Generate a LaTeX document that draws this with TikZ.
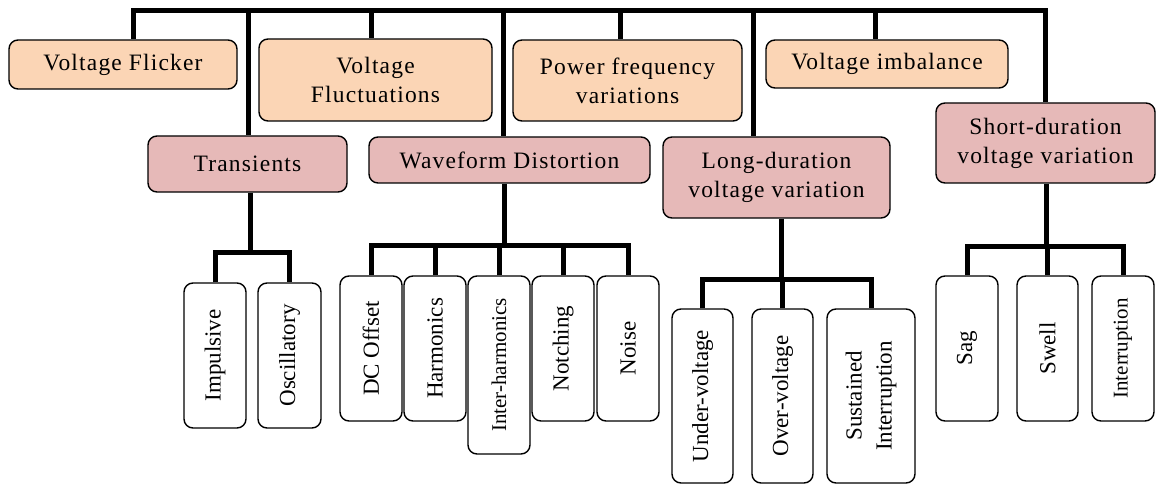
\documentclass[tikz,border=0pt]{standalone}
\usepackage{fontspec}
\setmainfont{Liberation Serif}
\definecolor{peach}{HTML}{FBD5B5}
\definecolor{rose}{HTML}{E6B9B8}
\tikzset{
  basebox/.style={draw, line width=1.4pt, rounded corners=9pt, inner sep=0pt},
  boxtext/.style={font=\fontsize{23.5}{29}\selectfont\addfontfeatures{LetterSpace=5}, align=center},
  topbox/.style={basebox, fill=peach, boxtext},
  catbox/.style={basebox, fill=rose, boxtext},
  leafbox/.style={basebox, fill=white},
  leaftext/.style={rotate=90, font=\fontsize{23}{30}\selectfont, align=center},
  narrowtext/.style={leaftext, font=\fontsize{21}{30}\selectfont},
  bus/.style={line width=5pt},
}
\newcommand\leafat[7][leaftext]{
  \node[leafbox, minimum width=#5pt, minimum height=#6pt,
        label={[#1]center:{#7}}] (#2) at (#3,#4) {};
}

\begin{document}
\begin{tikzpicture}[x=1pt, y=-1pt]
  \useasboundingbox (0,0) rectangle (1157,484);
  \node[topbox, minimum width=228pt, minimum height=49pt] (flicker) at (123,64.5) {Voltage Flicker};
  \node[topbox, minimum width=233pt, minimum height=82pt] (fluct) at (375.5,80) {Voltage\\Fluctuations};
  \node[topbox, minimum width=229pt, minimum height=81pt] (power) at (627.5,80.5) {Power frequency\\variations};
  \node[topbox, minimum width=242pt, minimum height=48pt] (imbal) at (887,64) {Voltage imbalance};
  \node[catbox, minimum width=199pt, minimum height=56pt] (trans) at (247.5,164) {Transients};
  \node[catbox, minimum width=281pt, minimum height=46pt] (wave) at (509.5,160) {Waveform Distortion};
  \node[catbox, minimum width=227pt, minimum height=81pt] (long) at (776.5,177.5) {Long-duration\\voltage variation};
  \node[catbox, minimum width=219pt, minimum height=80pt] (short) at (1045.5,143) {Short-duration\\voltage variation};

  \coordinate (busL) at (133,11);
  \coordinate (busR) at (1045,11);
  \draw[bus] (flicker.north -| busL) -- (busL) -- (busR) -- (short.north -| busR);
  \foreach \n/\x in {trans/248, fluct/371, wave/503, power/620, long/753, imbal/875} {
    \coordinate (d\n) at (\x,11);
    \draw[bus] (d\n) -- (d\n |- \n.north);
  }

  \leafat{impuls}{215}{355.5}{62}{145}{Impulsive}
  \leafat{oscil}{289.5}{355.5}{63}{145}{Oscillatory}
  \coordinate (tbar) at (250,252);
  \draw[bus] (trans.south -| tbar) -- (tbar);
  \draw[bus] (impuls.north) |- (tbar) -| (oscil.north);

  \leafat{dcoff}{371}{348.5}{62}{145}{DC Offset}
  \leafat{harm}{435}{348.5}{62}{145}{Harmonics}
  \leafat[narrowtext]{inter}{499}{365}{62}{178}{Inter-harmonics}
  \leafat{notch}{563}{348.5}{62}{145}{Notching}
  \leafat{noise}{628}{348.5}{62}{145}{Noise}
  \coordinate (wbar) at (504,245);
  \draw[bus] (wave.south -| wbar) -- (wbar);
  \draw[bus] (dcoff.north) |- (wbar) -| (noise.north);
  \foreach \n in {harm, inter, notch}
    \draw[bus] (\n.north) -- (\n.north |- wbar);

  \leafat{under}{702.5}{396}{61}{174}{Under-voltage}
  \leafat{over}{782.5}{396}{61}{174}{Over-voltage}
  \leafat{sust}{871}{396}{88}{174}{Sustained\\Interruption}
  \coordinate (lbar) at (781,279);
  \draw[bus] (long.south -| lbar) -- (lbar);
  \draw[bus] (under.north) |- (lbar) -| (sust.north);
  \draw[bus] (over.north) -- (over.north |- lbar);

  \leafat{sag}{967}{348.5}{62}{145}{Sag}
  \leafat{swell}{1047.5}{348.5}{61}{145}{Swell}
  \leafat[narrowtext]{interr}{1123}{348.5}{62}{145}{Interruption}
  \coordinate (sbar) at (1046,246);
  \draw[bus] (short.south -| sbar) -- (sbar);
  \draw[bus] (sag.north) |- (sbar) -| (interr.north);
  \draw[bus] (swell.north) -- (swell.north |- sbar);
\end{tikzpicture}
\end{document}
